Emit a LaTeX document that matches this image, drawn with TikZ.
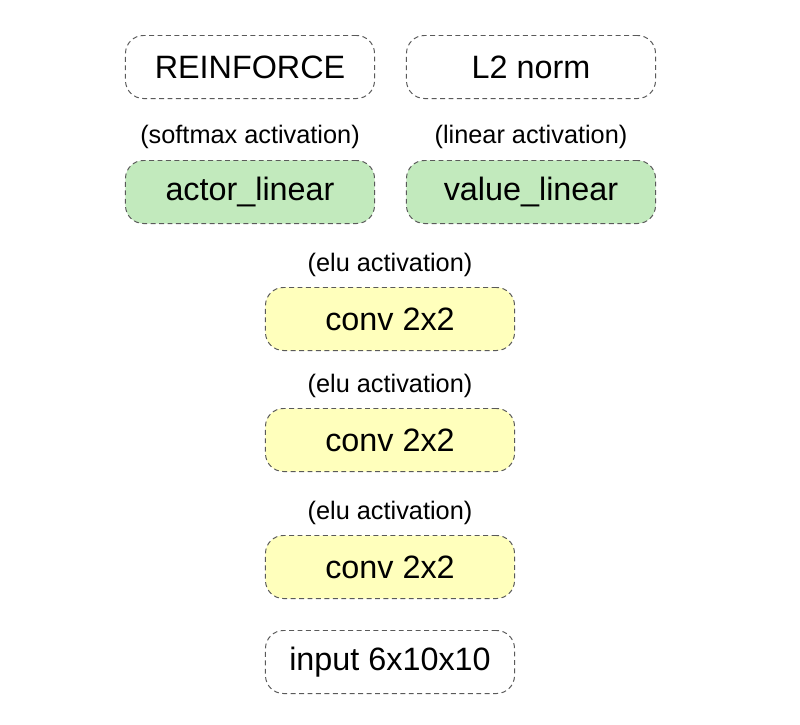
\documentclass[tikz,border=0pt]{standalone}
\usepackage{fontspec}
\setmainfont{Liberation Sans}
\definecolor{actgreen}{RGB}{194,234,189}
\definecolor{convyellow}{RGB}{255,255,188}
\definecolor{dashgray}{RGB}{90,90,90}
\tikzset{
  layer/.style={draw=dashgray, line width=0.7pt, dash pattern=on 3.5pt off 2.5pt,
    rounded corners=0.45cm, minimum width=6.225cm, minimum height=1.575cm,
    inner sep=0pt, font=\fontsize{23}{27}\selectfont},
  actlabel/.style={inner sep=0pt, font=\fontsize{18}{22}\selectfont}
}

\begin{document}
\begin{tikzpicture}[x=0.025cm,y=-0.025cm]
  \useasboundingbox (0,0) rectangle (800,724);
  \def\lx{250}   % left column
  \def\rx{531}   % right column
  \def\cx{390}   % middle column
  % output heads
  \node[layer] (reinforce) at (\lx,67) {REINFORCE};
  \node[layer] (l2norm) at (\rx,67) {L2 norm};
  \node[layer,fill=actgreen] (actor) at (\lx,192) {actor\_linear};
  \node[layer,fill=actgreen] (value) at (\rx,192) {value\_linear};
  \node[actlabel] (actorlbl) at (\lx,137) {(softmax activation)};
  \node[actlabel] (valuelbl) at (\rx,137) {(linear activation)};
  % conv stack
  \foreach \y/\n in {319/conva,440/convb,567/convc} {
    \node[layer,fill=convyellow] (\n) at (\cx,\y) {conv 2x2};
    \node[actlabel] (\n lbl) at (\cx,\y-54) {(elu activation)};
  }
  \node[layer] (input) at (\cx,662) {input 6x10x10};
\end{tikzpicture}
\end{document}
